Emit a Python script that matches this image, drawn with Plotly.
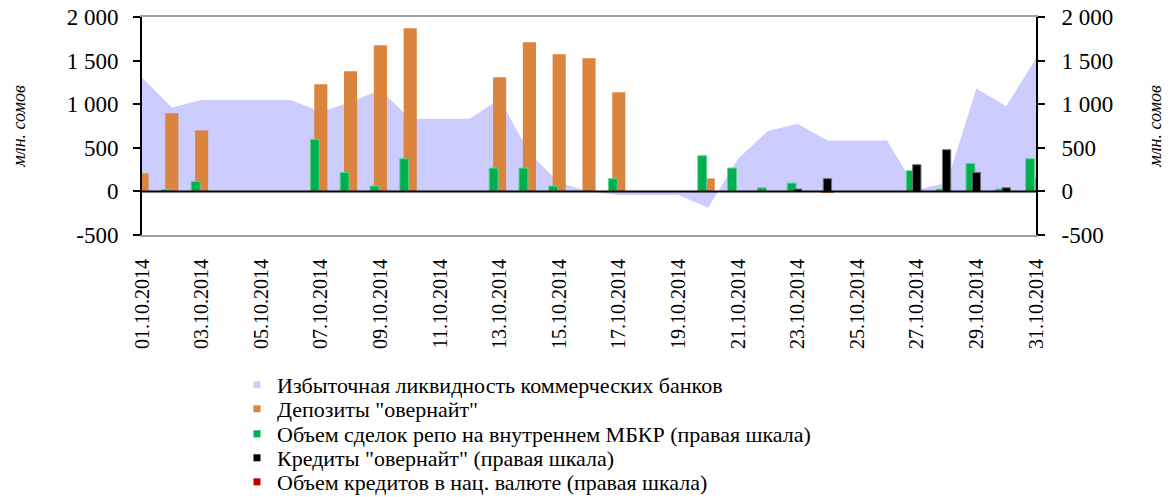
import plotly.graph_objects as go

dates = ["%02d.10.2014" % d for d in range(1, 32)]

excess_liquidity = [1305, 961, 1048, 1048, 1048, 1048, 910, 1025, 1167, 834,
                    834, 834, 1060, 440, 100, 0, -40, -40, -40, -187,
                    375, 692, 777, 585, 585, 585, 20, 95, 1179, 976, 1523]
deposits_overnight = [207, 896, 700, None, None, None, 1228, 1378, 1676, 1871,
                      None, None, 1309, 1711, 1573, 1527, 1137, None, None, 149,
                      None, None, None, -12, None, None, None, None, None, None, 149]
repo_volume = [None, 23, 115, None, None, None, 597, 218, 61, 375,
               None, None, 268, 268, 61, None, 146, None, None, 409,
               268, 42, 95, None, None, None, 237, 27, 321, 27, 375]
overnight_credits = [None] * 22 + [27, 146, None, None, 306, 478, 218, 42, None]
national_credits = [None] * 31

y_tickvals = [-500, 0, 500, 1000, 1500, 2000]
y_ticktext = ["-500", "0", "500", "1 000", "1 500", "2 000"]

names = [
    "Избыточная ликвидность коммерческих банков",
    'Депозиты "овернайт"',
    "Объем сделок репо на внутреннем МБКР (правая шкала)",
    'Кредиты "овернайт" (правая шкала)',
    "Объем кредитов в нац. валюте (правая шкала)",
]
colors = ["#CCCCFF", "#DB843D", "#00B050", "#000000", "#C00000"]
legend_rows_px = [385, 409, 434, 458, 482]

FONT = "Liberation Serif"
W, H = 1171, 497
ML, MR, MT, MB = 142, 135, 17, 262

fig = go.Figure()

# area on primary axis (drawn first / underneath)
fig.add_trace(go.Scatter(
    x=dates, y=excess_liquidity, mode="lines", fill="tozeroy",
    line=dict(width=0, color=colors[0]), fillcolor=colors[0],
    showlegend=False, hoverinfo="skip", yaxis="y"))

# overnight deposits (primary scale, drawn on a hidden overlay so it sits above the area)
fig.add_trace(go.Bar(
    x=dates, y=deposits_overnight, marker=dict(color=colors[1], line=dict(width=0)),
    width=0.44, offset=-0.22, showlegend=False, yaxis="y2"))

# right-scale series
fig.add_trace(go.Bar(
    x=dates, y=repo_volume, marker=dict(color=colors[2], line=dict(width=1, color="#5ED58E")),
    width=0.3, offset=-0.35, showlegend=False, yaxis="y3"))

fig.add_trace(go.Bar(
    x=dates, y=overnight_credits, marker=dict(color=colors[3], line=dict(width=1, color="#777777")),
    width=0.28, offset=-0.14, showlegend=False, yaxis="y3"))

fig.add_trace(go.Bar(
    x=dates, y=national_credits, marker=dict(color=colors[4], line=dict(width=0)),
    width=0.3, offset=0.05, showlegend=False, yaxis="y3"))

# legend entries, one legend per row
plot_h = H - MT - MB
legends = {}
for i, (n, c, ypx) in enumerate(zip(names, colors, legend_rows_px)):
    lid = "legend" if i == 0 else "legend%d" % (i + 1)
    fig.add_trace(go.Scatter(
        x=[None], y=[None], mode="markers", name=n, legend=lid,
        marker=dict(symbol="square", size=7, color=c), showlegend=True))
    legends[lid] = dict(
        x=(237 - ML) / (W - ML - MR), y=(H - MB - ypx) / plot_h,
        xanchor="left", yanchor="middle",
        font=dict(family=FONT, size=22, color="black"),
        bgcolor="rgba(0,0,0,0)", borderwidth=0)

fig.add_shape(type="line", xref="paper", yref="y", x0=0, x1=1, y0=0, y1=0,
              line=dict(color="black", width=2), layer="above")

yfont = dict(family=FONT, size=23, color="black")
title_font = dict(family=FONT, size=18, color="black")

fig.update_layout(
    width=W, height=H,
    margin=dict(l=ML, r=MR, t=MT, b=MB, autoexpand=False),
    plot_bgcolor="white", paper_bgcolor="white",
    barmode="overlay",
    font=dict(family=FONT, size=20, color="black"),
    showlegend=True,
    xaxis=dict(type="category", range=[0, 30], tickmode="array",
               tickvals=dates[::2], ticktext=dates[::2], tickangle=-90,
               showline=True, linecolor="#A0A0A0", linewidth=2, mirror=True,
               ticks="", ticklabelstandoff=14, showgrid=False,
               tickfont=dict(family=FONT, size=20, color="black")),
    yaxis=dict(range=[-500, 2000], tickmode="array", tickvals=y_tickvals,
               ticktext=y_ticktext, showgrid=False, zeroline=False,
               showline=True, linecolor="black", linewidth=2,
               ticks="outside", ticklen=7, tickwidth=2, tickcolor="black",
               ticklabelstandoff=10, tickfont=yfont,
               title=dict(text="<i>млн. сомов</i>", font=title_font, standoff=36)),
    yaxis2=dict(range=[-500, 2000], overlaying="y", visible=False),
    yaxis3=dict(range=[-500, 2000], overlaying="y", side="right",
                tickmode="array", tickvals=y_tickvals, ticktext=y_ticktext,
                showgrid=False, zeroline=False,
                showline=True, linecolor="black", linewidth=2,
                ticks="outside", ticklen=7, tickwidth=2, tickcolor="black",
                ticklabelstandoff=12, tickfont=yfont,
                title=dict(text="<i>млн. сомов</i>", font=title_font, standoff=36)),
    **legends,
)

fig.write_html("out.html", config={"displayModeBar": False},
               post_script="document.body.style.margin='0';")
